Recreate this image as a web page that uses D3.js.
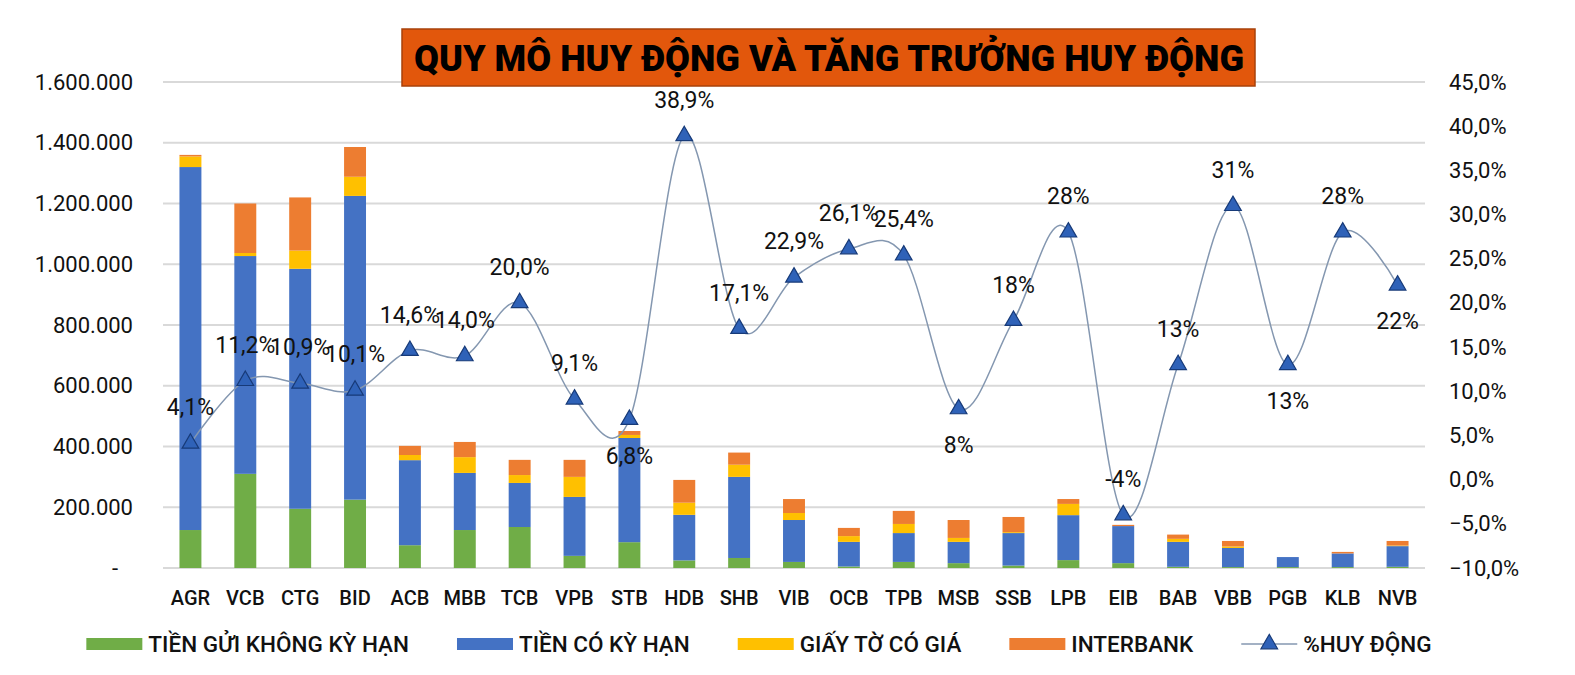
<!DOCTYPE html>
<html>
<head>
<meta charset="utf-8">
<script src="https://cdn.jsdelivr.net/npm/d3@7"></script>
<style>
  body { margin: 0; background: #fff; }
  svg text { font-family: Roboto, "Open Sans", sans-serif; fill: #111; }
</style>
</head>
<body>
<svg id="chart" width="1575" height="675"></svg>
<script>
// Ngân hàng
const banks = ["AGR","VCB","CTG","BID","ACB","MBB","TCB","VPB","STB","HDB","SHB","VIB",
               "OCB","TPB","MSB","SSB","LPB","EIB","BAB","VBB","PGB","KLB","NVB"];

// Cơ cấu huy động (tỷ đồng)
const khongKyHan = [125000,310000,195000,225000,75000,125000,135000,40000,85000,25000,33000,20000,
                    5000,20000,16000,8000,26000,16000,4000,3000,3000,3000,4000];
const coKyHan    = [1195000,717000,790000,1000000,280000,188000,145000,194000,343000,150000,267000,138000,
                    81000,95000,70000,107000,148000,122000,82000,63000,33000,45000,68000];
const giayTo     = [35000,10000,60000,63000,17000,52000,26000,66000,10000,40000,40000,23000,
                    19000,30000,13000,3000,37000,0,10000,5000,0,0,2000];
const interbank  = [5000,163000,175000,98000,30000,50000,50000,56000,13000,75000,40000,46000,
                    27000,43000,59000,50000,16000,4000,14000,18000,0,5000,15000];

// Tăng trưởng huy động
const tangTruong = [4.1,11.2,10.9,10.1,14.6,14.0,20.0,9.1,6.8,38.9,17.1,22.9,
                    26.1,25.4,8,18,28,-4,13,31,13,28,22];
const nhanTT     = ["4,1%","11,2%","10,9%","10,1%","14,6%","14,0%","20,0%","9,1%","6,8%","38,9%","17,1%","22,9%",
                    "26,1%","25,4%","8%","18%","28%","-4%","13%","31%","13%","28%","22%"];
const nhanDuoi   = ["STB","MSB","PGB","NVB"];   // nhãn đặt phía dưới điểm

const leftTicks  = [0,200000,400000,600000,800000,1000000,1200000,1400000,1600000];
const rightTicks = [-10,-5,0,5,10,15,20,25,30,35,40,45];

const seriesNames = ["TIỀN GỬI KHÔNG KỲ HẠN","TIỀN CÓ KỲ HẠN","GIẤY TỜ CÓ GIÁ","INTERBANK"];
const colors = ["#70AD47","#4472C4","#FFC000","#ED7D31"];

const title = "QUY MÔ HUY ĐỘNG VÀ TĂNG TRƯỞNG HUY ĐỘNG";

// Bảng cho stack
const table = banks.map((b, i) => ({
  bank: b, s0: khongKyHan[i], s1: coKyHan[i], s2: giayTo[i], s3: interbank[i]
}));
const stack = d3.stack().keys(["s0","s1","s2","s3"])(table);

const svg = d3.select("#chart");
const margin = {top: 82, left: 163, right: 150, bottom: 107};
const W = 1575, H = 675;
const x0 = margin.left, x1 = W - margin.right, yTop = margin.top, yBot = H - margin.bottom;

const x = d3.scaleBand().domain(banks).range([x0, x1]).paddingInner(0.6).paddingOuter(0.3);
const y = d3.scaleLinear().domain([0, 1600000]).range([yBot, yTop]);
const y2 = d3.scaleLinear().domain([-10, 45]).range([yBot, yTop]);

// Lưới
svg.append("g")
  .selectAll("line")
  .data(leftTicks)
  .join("line")
    .attr("x1", x0).attr("x2", x1)
    .attr("y1", d => y(d)).attr("y2", d => y(d))
    .attr("stroke", "#d9d9d9").attr("stroke-width", 2);

// Trục trái
const fmtLeft = d => d === 0 ? "-" : d3.format(",")(d).replace(/,/g, ".");
const axL = svg.append("g")
  .attr("transform", `translate(${x0 - 30},0)`)
  .call(d3.axisLeft(y).tickValues(leftTicks).tickFormat(fmtLeft).tickSize(0).tickPadding(0));
axL.select(".domain").remove();
axL.selectAll("text").style("font-size", "22px")
  .attr("dx", d => d === 0 ? -15 : 0);

// Trục phải
const axR = svg.append("g")
  .attr("transform", `translate(${x1 + 24},0)`)
  .call(d3.axisRight(y2).tickValues(rightTicks).tickFormat(d => d3.format(".1f")(d).replace(".", ",") + "%")
    .tickSize(0).tickPadding(0));
axR.select(".domain").remove();
axR.selectAll("text").style("font-size", "22px");

// Cột chồng
svg.append("g")
  .selectAll("g")
  .data(stack)
  .join("g")
    .attr("fill", (d, i) => colors[i])
  .selectAll("rect")
  .data(d => d)
  .join("rect")
    .attr("x", d => x(d.data.bank))
    .attr("width", x.bandwidth())
    .attr("y", d => y(d[1]))
    .attr("height", d => y(d[0]) - y(d[1]));

// Nhãn trục X
const axB = svg.append("g")
  .attr("transform", `translate(0,${yBot + 23})`)
  .call(d3.axisBottom(x).tickSize(0).tickPadding(0));
axB.select(".domain").remove();
axB.selectAll("text").style("font-size", "20px").style("font-weight", 500);

// Đường tăng trưởng
const pts = banks.map((b, i) => ({bank: b, v: tangTruong[i], label: nhanTT[i]}));
const cx = d => x(d.bank) + x.bandwidth() / 2;

svg.append("path")
  .datum(pts)
  .attr("fill", "none")
  .attr("stroke", "#8497B0")
  .attr("stroke-width", 1.5)
  .attr("d", d3.line().x(cx).y(d => y2(d.v)).curve(d3.curveCardinal.tension(0)));

const tri = d3.symbol().type(d3.symbolTriangle).size(120);
svg.append("g")
  .selectAll("path")
  .data(pts)
  .join("path")
    .attr("d", tri)
    .attr("transform", d => `translate(${cx(d)},${y2(d.v)})`)
    .attr("fill", "#2F62B8")
    .attr("stroke", "#173A78")
    .attr("stroke-width", 1.2);

svg.append("g")
  .selectAll("text")
  .data(pts)
  .join("text")
    .attr("x", cx)
    .attr("y", d => y2(d.v) + (nhanDuoi.includes(d.bank) ? 36 : -36))
    .attr("dy", "0.35em")
    .attr("text-anchor", "middle")
    .style("font-size", "23px")
    .text(d => d.label);

// Tiêu đề
svg.append("rect")
  .attr("x", 402).attr("y", 29).attr("width", 853).attr("height", 57)
  .attr("fill", "#E2570C").attr("stroke", "#a8420a").attr("stroke-width", 1.5);
svg.append("text")
  .attr("x", 829).attr("y", 58).attr("dy", "0.36em")
  .attr("text-anchor", "middle")
  .attr("textLength", 830).attr("lengthAdjust", "spacingAndGlyphs")
  .style("font-size", "36px").style("font-weight", 900)
  .style("fill", "#000")
  .text(title);

// Chú thích
const legendItems = seriesNames.map((n, i) => ({name: n, color: colors[i], line: false}))
  .concat([{name: "%HUY ĐỘNG", color: "#2F62B8", line: true}]);
const lg = svg.append("g");
const ly = 644, sw = 56, gap = 48;
let cursor = 0;
legendItems.forEach(it => {
  const g = lg.append("g");
  if (it.line) {
    g.append("line").attr("x1", 0).attr("x2", sw).attr("y1", ly).attr("y2", ly)
      .attr("stroke", "#8497B0").attr("stroke-width", 1.5);
    g.append("path").attr("d", tri).attr("transform", `translate(${sw / 2},${ly})`)
      .attr("fill", "#2F62B8").attr("stroke", "#173A78").attr("stroke-width", 1.2);
  } else {
    g.append("rect").attr("x", 0).attr("y", ly - 6).attr("width", sw).attr("height", 12)
      .attr("fill", it.color);
  }
  const t = g.append("text").attr("x", sw + 6).attr("y", ly).attr("dy", "0.36em")
    .style("font-size", "22.5px").style("font-weight", 500).text(it.name);
  const w = sw + 6 + t.node().getComputedTextLength();
  g.attr("transform", `translate(${cursor},0)`);
  cursor += w + gap;
});
const totalW = cursor - gap;
lg.attr("transform", `translate(${759 - totalW / 2},0)`);
</script>
</body>
</html>
